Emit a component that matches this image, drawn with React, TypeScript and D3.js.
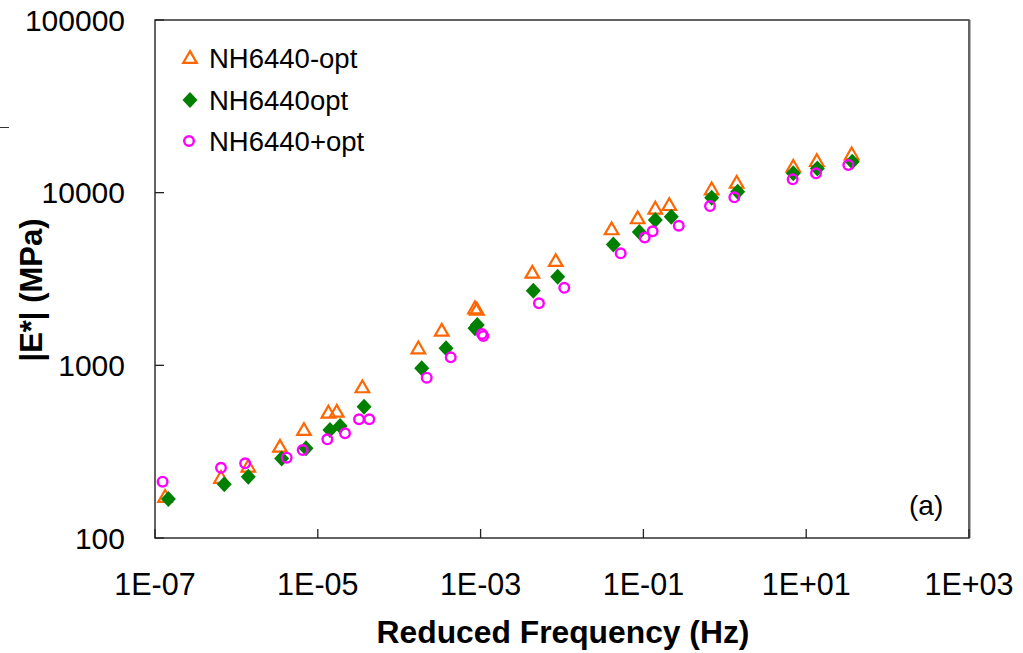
import React from "react";
import * as d3 from "d3";

// Dynamic modulus master curves, |E*| (MPa) vs reduced frequency (Hz)
const seriesNames = ["NH6440-opt", "NH6440opt", "NH6440+opt"];

const minusOptFreq = [1.33e-7, 6.47e-7, 1.4e-6, 3.43e-6, 6.76e-6, 1.35e-5, 1.71e-5, 3.53e-5, 1.72e-4, 3.33e-4, 8.53e-4, 9.0e-4, 4.32e-3, 8.38e-3, 0.0407, 0.0851, 0.14, 0.208, 0.69, 1.4, 6.94, 13.5, 36.2];
const minusOptMod = [173, 223, 259, 338, 422, 532, 539, 746, 1254, 1586, 2138, 2100, 3437, 4018, 6132, 7100, 8078, 8477, 10450, 11410, 14120, 15240, 16660];

const optFreq = [1.46e-7, 7.1e-7, 1.4e-6, 3.6e-6, 7.16e-6, 1.41e-5, 1.88e-5, 3.7e-5, 1.89e-4, 3.76e-4, 9.1e-4, 8.53e-4, 4.44e-3, 8.85e-3, 0.0427, 0.0891, 0.14, 0.22, 0.69, 1.44, 6.94, 13.7, 36.8];
const optMod = [168, 205, 226, 289, 331, 422, 445, 576, 961, 1254, 1712, 1637, 2703, 3259, 5006, 5913, 6939, 7253, 9344, 10120, 12940, 13820, 15100];

const plusOptFreq = [1.24e-7, 6.47e-7, 1.28e-6, 4.15e-6, 6.52e-6, 1.31e-5, 2.16e-5, 3.21e-5, 4.29e-5, 2.18e-4, 4.3e-4, 1.08e-3, 1.04e-3, 5.21e-3, 0.01067, 0.0526, 0.1038, 0.13, 0.272, 0.658, 1.31, 6.82, 13.2, 32.9];
const plusOptMod = [212, 255, 271, 292, 323, 373, 404, 487, 487, 848, 1112, 1478, 1520, 2286, 2813, 4451, 5496, 5970, 6433, 8362, 9394, 11940, 12940, 14450];

const xTickValues = [1e-7, 1e-5, 1e-3, 1e-1, 1e1, 1e3];
const xTickLabels = ["1E-07", "1E-05", "1E-03", "1E-01", "1E+01", "1E+03"];
const yTickValues = [100, 1000, 10000, 100000];
const yTickLabels = ["100", "1000", "10000", "100000"];

const W = 1023;
const H = 653;
const plot = { left: 155, right: 969, top: 20, bottom: 538 };
const FONT = "'Liberation Sans', Arial, sans-serif";
const ORANGE = "#FF6600";
const GREEN = "#008000";
const MAGENTA = "#FF00FF";

const x = d3.scaleLog().domain([1e-7, 1e3]).range([plot.left, plot.right]);
const y = d3.scaleLog().domain([100, 100000]).range([plot.bottom, plot.top]);

const triPath = d3.symbol().type(d3.symbolTriangle).size(80)() as string;
const diamondPath = "M0,-8L7.5,0L0,8L-7.5,0Z";

function Triangle({ cx, cy }: { cx: number; cy: number }) {
  return (
    <path d={triPath} transform={`translate(${cx},${cy + 1})`} fill="none" stroke={ORANGE} strokeWidth={2.2} />
  );
}
function Diamond({ cx, cy }: { cx: number; cy: number }) {
  return <path d={diamondPath} transform={`translate(${cx},${cy})`} fill={GREEN} />;
}
function Ring({ cx, cy }: { cx: number; cy: number }) {
  return <circle cx={cx} cy={cy} r={4.8} fill="none" stroke={MAGENTA} strokeWidth={2.4} />;
}

export default function App() {
  const minusPts = minusOptFreq.map((f, i) => [x(f), y(minusOptMod[i])]);
  const optPts = optFreq.map((f, i) => [x(f), y(optMod[i])]);
  const plusPts = plusOptFreq.map((f, i) => [x(f), y(plusOptMod[i])]);
  const legendRows = [58, 100, 141];

  return (
    <svg
      width={W}
      height={H}
      viewBox={`0 0 ${W} ${H}`}
      style={{ position: "fixed", left: 0, top: 0, background: "#fff" }}
      fontFamily={FONT}
    >
      <rect x={0} y={0} width={W} height={H} fill="#fff" />
      {/* stray mark at the left margin */}
      <line x1={0} x2={9} y1={127.5} y2={127.5} stroke="#333" strokeWidth={1} />

      {/* frame */}
      <rect
        x={plot.left}
        y={plot.top}
        width={plot.right - plot.left}
        height={plot.bottom - plot.top}
        fill="none"
        stroke="#222"
        strokeWidth={1.4}
      />
      <line x1={plot.right + 0.5} x2={plot.right + 0.5} y1={plot.top} y2={plot.bottom} stroke="#666" strokeWidth={2} />

      {/* y ticks and labels */}
      {yTickValues.map((v, i) => (
        <g key={`yt${i}`}>
          <line x1={plot.left} x2={plot.left + 9} y1={y(v)} y2={y(v)} stroke="#222" strokeWidth={1.3} />
          <text x={125} y={y(v) + 10.5} textAnchor="end" fontSize={30} fill="#000">
            {yTickLabels[i]}
          </text>
        </g>
      ))}

      {/* x ticks and labels */}
      {xTickValues.map((v, i) => (
        <g key={`xt${i}`}>
          <line x1={x(v)} x2={x(v)} y1={plot.bottom} y2={plot.bottom - 9} stroke="#222" strokeWidth={1.3} />
          <text x={x(v)} y={595} textAnchor="middle" fontSize={30.5} fill="#000">
            {xTickLabels[i]}
          </text>
        </g>
      ))}

      {/* axis titles */}
      <text x={563} y={643} textAnchor="middle" fontSize={31.8} fontWeight="bold" fill="#000">
        Reduced Frequency (Hz)
      </text>
      <text
        transform="translate(42,290) rotate(-90)"
        textAnchor="middle"
        fontSize={31}
        fontWeight="bold"
        fill="#000"
      >
        |E*| (MPa)
      </text>

      {/* data */}
      {minusPts.map(([cx, cy], i) => (
        <Triangle key={`m${i}`} cx={cx} cy={cy} />
      ))}
      {optPts.map(([cx, cy], i) => (
        <Diamond key={`o${i}`} cx={cx} cy={cy} />
      ))}
      {plusPts.map(([cx, cy], i) => (
        <Ring key={`p${i}`} cx={cx} cy={cy} />
      ))}

      {/* legend */}
      <Triangle cx={190} cy={legendRows[0]} />
      <Diamond cx={190} cy={legendRows[1]} />
      <Ring cx={189} cy={legendRows[2]} />
      {seriesNames.map((name, i) => (
        <text key={name} x={209} y={legendRows[i] + 9.5} fontSize={27.5} fill="#000">
          {name}
        </text>
      ))}

      <text x={909} y={515} fontSize={28} fill="#000">
        (a)
      </text>
    </svg>
  );
}
